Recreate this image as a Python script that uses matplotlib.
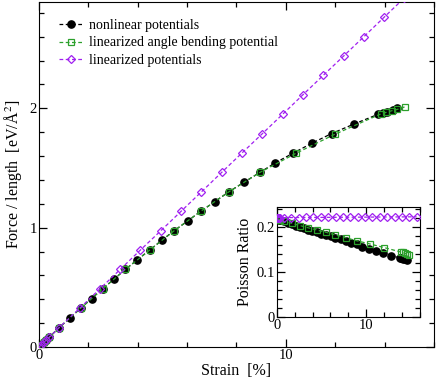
import matplotlib
matplotlib.use("Agg")
import matplotlib.pyplot as plt
from matplotlib.ticker import MultipleLocator

plt.rcParams['font.family'] = ['Liberation Serif', 'DejaVu Serif']
plt.rcParams['mathtext.fontset'] = 'stix'

# ---- data ----
strain_nl = [0, 0.1, 0.2, 0.3, 0.41, 0.82, 1.26, 1.69, 2.13, 2.58, 3.04, 3.50, 3.98, 4.49,
             4.97, 5.48, 6.02, 6.56, 7.13, 7.69, 8.31, 8.95, 9.58, 10.30, 11.04, 11.85,
             12.77, 13.74, 13.92, 14.10, 14.32, 14.52]
force_nl = [0, 0.02, 0.04, 0.06, 0.081, 0.163, 0.244, 0.325, 0.406, 0.488, 0.569, 0.650,
            0.731, 0.813, 0.894, 0.975, 1.056, 1.138, 1.219, 1.300, 1.381, 1.463, 1.544,
            1.625, 1.706, 1.788, 1.869, 1.950, 1.962, 1.972, 1.983, 2.003]
poisson_nl = [0.218, 0.218, 0.217, 0.216, 0.215, 0.212, 0.209, 0.206, 0.203, 0.200, 0.197,
              0.194, 0.191, 0.188, 0.185, 0.182, 0.179, 0.176, 0.172, 0.169, 0.165, 0.161,
              0.156, 0.151, 0.147, 0.142, 0.136, 0.131, 0.130, 0.129, 0.128, 0.127]

strain_ab = [0, 0.1, 0.2, 0.3, 0.41, 0.82, 1.69, 2.58, 3.50, 4.49, 5.48, 6.56, 7.69, 8.95,
             10.40, 11.98, 13.87, 14.05, 14.30, 14.50, 14.82]
force_ab = [0, 0.02, 0.04, 0.06, 0.081, 0.163, 0.325, 0.488, 0.650, 0.813, 0.975, 1.138,
            1.300, 1.463, 1.622, 1.782, 1.955, 1.965, 1.980, 1.990, 2.012]
poisson_ab = [0.218, 0.218, 0.217, 0.216, 0.215, 0.212, 0.208, 0.203, 0.198, 0.193, 0.188,
              0.182, 0.176, 0.169, 0.162, 0.154, 0.144, 0.143, 0.141, 0.140, 0.138]

strain_lin = [0, 0.1, 0.2, 0.3, 0.41, 0.82, 1.65, 2.47, 3.29, 4.11, 4.94, 5.76, 6.58, 7.40,
              8.22, 9.05, 9.87, 10.69, 11.51, 12.34, 13.16, 13.98, 14.80, 15.62]
force_lin = [0, 0.02, 0.04, 0.06, 0.081, 0.163, 0.325, 0.488, 0.650, 0.813, 0.975, 1.138,
             1.300, 1.463, 1.625, 1.788, 1.950, 2.113, 2.275, 2.438, 2.600, 2.763, 2.925, 3.088]
poisson_lin = [0.2205, 0.2205, 0.2205, 0.2205, 0.2205, 0.2206, 0.2207, 0.2208, 0.2209,
               0.2210, 0.2211, 0.2212, 0.2213, 0.2214, 0.2215, 0.2216, 0.2217, 0.2218,
               0.2219, 0.2220, 0.2221, 0.2222, 0.2223, 0.2224]

labels = ['nonlinear potentials', 'linearized angle bending potential', 'linearized potentials']

BLACK = '#000000'
GREEN = '#2ca02c'
PURPLE = '#a020f0'

fig = plt.figure(figsize=(4.36, 3.82), dpi=100)
ax = fig.add_axes([0.0894, 0.0916, 0.906, 0.903])

ax.plot(strain_nl, force_nl, ls=(0, (3, 2)), color=BLACK, lw=0.9, marker='o', ms=5.2,
        mfc=BLACK, mec=BLACK, label=labels[0], zorder=3)
ax.plot(strain_ab, force_ab, ls=(0, (3, 2)), color=GREEN, lw=0.9, marker='s', ms=4.6,
        mfc='none', mec=GREEN, mew=0.9, label=labels[1], zorder=4)
ax.plot(strain_lin, force_lin, ls=(0, (3, 2)), color=PURPLE, lw=0.9, marker='D', ms=3.8,
        mfc='none', mec=PURPLE, mew=0.9, label=labels[2], zorder=5)

ax.set_xlim(0, 16)
ax.set_ylim(0, 2.89)
ax.xaxis.set_major_locator(MultipleLocator(10))
ax.xaxis.set_minor_locator(MultipleLocator(2))
ax.yaxis.set_major_locator(MultipleLocator(1))
ax.yaxis.set_minor_locator(MultipleLocator(0.2))
ax.tick_params(which='both', direction='in', top=True, right=True, labelsize=10.5, pad=1.5)
ax.tick_params(which='major', length=6, width=0.9)
ax.tick_params(which='minor', length=3.5, width=0.9)
ax.set_xlabel('Strain  [%]', fontsize=11.5, labelpad=1)
ax.set_ylabel('Force / length  [eV/Å$^2$]', fontsize=11.5, labelpad=4)

leg = ax.legend(loc='upper left', bbox_to_anchor=(0.05, 0.95), frameon=False, fontsize=10,
                handlelength=1.8, handletextpad=0.4, labelspacing=0.3, borderpad=0,
                borderaxespad=0)

# ---- inset ----
ins = fig.add_axes([0.6346, 0.1710, 0.3287, 0.2880])
ins.plot(strain_nl, poisson_nl, ls=(0, (3, 2)), color=BLACK, lw=0.9, marker='o', ms=5.2,
         mfc=BLACK, mec=BLACK, zorder=3)
ins.plot(strain_ab, poisson_ab, ls=(0, (3, 2)), color=GREEN, lw=0.9, marker='s', ms=4.6,
         mfc='none', mec=GREEN, mew=0.9, zorder=4)
ins.plot(strain_lin, poisson_lin, ls=(0, (3, 2)), color=PURPLE, lw=0.9, marker='D', ms=3.8,
         mfc='none', mec=PURPLE, mew=0.9, zorder=5)
ins.set_xlim(0, 16)
ins.set_ylim(0, 0.245)
ins.xaxis.set_major_locator(MultipleLocator(10))
ins.xaxis.set_minor_locator(MultipleLocator(2))
ins.yaxis.set_major_locator(MultipleLocator(0.1))
ins.yaxis.set_minor_locator(MultipleLocator(0.02))
ins.set_yticklabels([]) if False else None
ins.yaxis.set_major_formatter(matplotlib.ticker.FuncFormatter(lambda v, p: '0' if abs(v) < 1e-9 else f'{v:.1f}'))
ins.tick_params(which='both', direction='in', top=True, right=True, labelsize=10.5, pad=1.5)
ins.tick_params(which='major', length=6, width=0.9)
ins.tick_params(which='minor', length=3.5, width=0.9)
ins.set_ylabel('Poisson Ratio', fontsize=11.5, labelpad=2)

fig.savefig('out.png', dpi=100)
